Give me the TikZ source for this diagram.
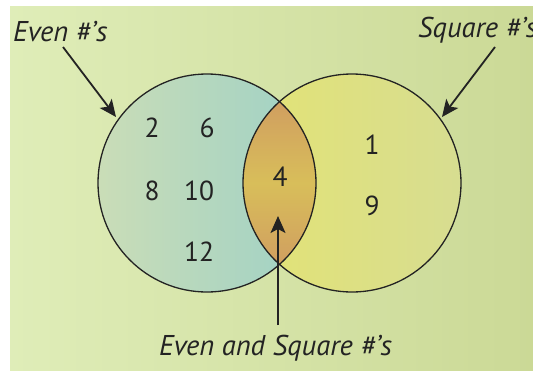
\documentclass[tikz,border=0pt]{standalone}
\usepackage{fontspec}
\setmainfont{PT Sans}
\usetikzlibrary{arrows.meta}
\definecolor{bgL}{RGB}{223,237,184}
\definecolor{bgR}{RGB}{203,217,150}
\definecolor{evL}{RGB}{202,221,183}
\definecolor{evR}{RGB}{158,209,198}
\definecolor{sqL}{RGB}{227,227,116}
\definecolor{sqR}{RGB}{215,221,145}
\definecolor{lensO}{RGB}{206,148,98}
\definecolor{lensY}{RGB}{216,190,90}
\definecolor{ink}{RGB}{35,35,35}
\tikzset{
  circ/.style={draw=ink, line width=1.3pt},
  pointer/.style={draw=ink, line width=1.8pt, -{Stealth[length=17pt,width=15pt,inset=4pt]}},
  lbl/.style={font=\fontsize{28.6}{31}\selectfont\itshape, text=ink, inner sep=0pt, anchor=base west},
  num/.style={font=\fontsize{27.5}{30}\selectfont, text=ink, inner sep=0pt}
}
\begin{document}
\begin{tikzpicture}[x=1pt,y=-1pt]
\useasboundingbox (0,0) rectangle (533,370);
\begin{scope}
\clip (10,6) rectangle (533,370);
\shade[left color=bgL,right color=bgR] (10,6) rectangle (533,370);
\coordinate (cE) at (207,183);
\coordinate (cS) at (352,183);
\shade[left color=evL, right color=evR] (cE) circle (109pt);
\shade[left color=sqL, right color=sqR] (cS) circle (109pt);
\begin{scope}
\clip (cE) circle (109pt);
\shade[top color=lensO, bottom color=lensO, middle color=lensY] (cS) circle (109pt);
\end{scope}
\draw[circ] (cE) circle (109pt);
\draw[circ] (cS) circle (109pt);
\node[lbl] (lE) at (13,41) {Even \#’s};
\node[lbl] (lS) at (418,37) {Square \#’s};
\node[lbl] (lB) at (159,355) {Even and Square \#’s};
\node[num] (n2) at (152,128) {2};
\node[num] (n6) at (207,128) {6};
\node[num] (n8) at (152,191) {8};
\node[num] (n10) at (199,191) {10};
\node[num] (n12) at (199,252) {12};
\node[num] (n4) at (280,177) {4};
\node[num] (n1) at (372,145) {1};
\node[num] (n9) at (372,206) {9};
\coordinate (aE1) at (63,47);
\coordinate (aE2) at (116,117);
\coordinate (aS1) at (495,47);
\coordinate (aS2) at (442,117);
\coordinate (aB1) at (278,325);
\coordinate (aB2) at (278,216);
\draw[pointer] (aE1) -- (aE2);
\draw[pointer] (aS1) -- (aS2);
\draw[pointer] (aB1) -- (aB2);
\end{scope}
\end{tikzpicture}
\end{document}
